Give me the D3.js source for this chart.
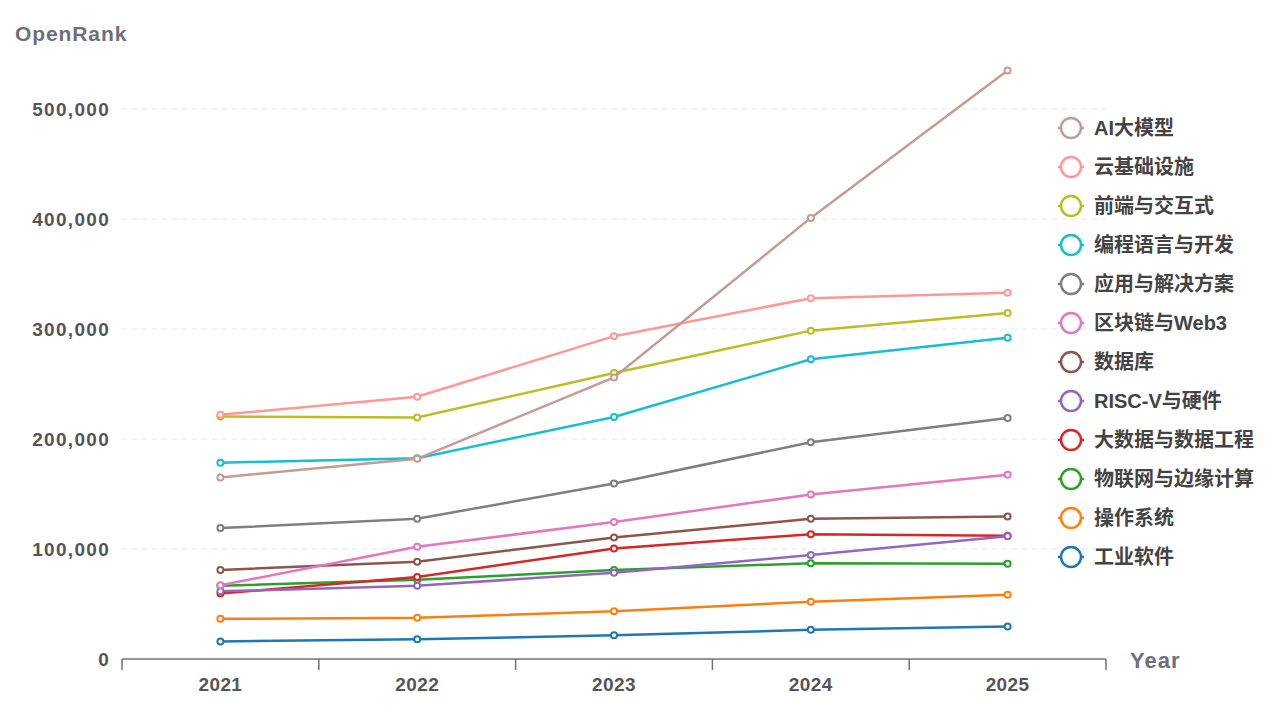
<!DOCTYPE html>
<html>
<head>
<meta charset="utf-8">
<script src="https://cdn.jsdelivr.net/npm/d3@7"></script>
<style>
  body { margin: 0; background: #fff; }
  svg text { font-family: "Liberation Sans", "Noto Sans CJK SC", sans-serif; }
</style>
</head>
<body>
<div id="chart"></div>
<script>
// categories
var years = ["2021", "2022", "2023", "2024", "2025"];
var yTicks = [0, 100000, 200000, 300000, 400000, 500000];

// series values (legend order)
var seriesNames = ["AI大模型", "云基础设施", "前端与交互式", "编程语言与开发", "应用与解决方案", "区块链与Web3",
                   "数据库", "RISC-V与硬件", "大数据与数据工程", "物联网与边缘计算", "操作系统", "工业软件"];
var aiModel      = [165000, 182000, 256000, 401000, 535000];
var cloudInfra   = [222000, 238500, 293500, 328000, 333000];
var frontend     = [220500, 219500, 260000, 298500, 314500];
var progLang     = [178500, 182500, 220000, 272500, 292000];
var appSolution  = [119000, 127500, 159500, 197000, 219000];
var blockchain   = [67000, 102000, 124500, 149500, 167500];
var database     = [81000, 88500, 110500, 127500, 129500];
var riscv        = [61500, 66500, 78500, 94500, 111500];
var bigData      = [59500, 74500, 100500, 113500, 112000];
var iot          = [66500, 72000, 81000, 87000, 86500];
var osSystem     = [36500, 37500, 43500, 52000, 58500];
var industrial   = [16000, 18000, 21500, 26500, 29500];
var seriesColors = ["#c49c94", "#ff9896", "#bcbd22", "#17becf", "#7f7f7f", "#e377c2",
                    "#8c564b", "#9467bd", "#d62728", "#2ca02c", "#ff7f0e", "#1f77b4"];

var allValues = [aiModel, cloudInfra, frontend, progLang, appSolution, blockchain,
                 database, riscv, bigData, iot, osSystem, industrial];
var series = seriesNames.map(function(n, i) { return {name: n, values: allValues[i], color: seriesColors[i]}; });

var W = 1280, H = 713;
var plot = {left: 122, right: 1106, top: 54, bottom: 659};

var x = d3.scaleBand().domain(years).range([plot.left, plot.right]);
var y = d3.scaleLinear().domain([0, 550000]).range([plot.bottom, plot.top]);
var cx = function(d) { return x(d) + x.bandwidth() / 2; };

var svg = d3.select("#chart").append("svg").attr("width", W).attr("height", H);

// grid lines
svg.append("g").selectAll("line").data(yTicks.slice(1)).enter()
  .append("line")
    .attr("x1", plot.left).attr("x2", plot.right)
    .attr("y1", function(d) { return y(d); }).attr("y2", function(d) { return y(d); })
    .attr("stroke", "#e0e6f1").attr("stroke-width", 1).attr("stroke-dasharray", "5,5");

// y labels
svg.append("g").selectAll("text").data(yTicks).enter()
  .append("text")
    .attr("x", plot.left - 12).attr("y", function(d) { return y(d); })
    .attr("dy", "0.35em").attr("text-anchor", "end")
    .attr("font-size", 19).attr("font-weight", "bold").attr("fill", "#555")
    .attr("letter-spacing", 1.3)
    .text(function(d) { return d3.format(",")(d); });

svg.append("text").attr("x", 15).attr("y", 34).attr("dy", "0.35em")
  .attr("font-size", 21).attr("font-weight", "bold").attr("fill", "#6e7079")
  .attr("letter-spacing", 0.9).text("OpenRank");

// x axis
var xAxis = svg.append("g").attr("transform", "translate(0," + plot.bottom + ")");
xAxis.append("line").attr("x1", plot.left).attr("x2", plot.right)
  .attr("stroke", "#6e7079").attr("stroke-width", 1.5);
xAxis.selectAll(".tk").data(years.concat(["end"])).enter()
  .append("line")
    .attr("x1", function(d) { return d === "end" ? plot.right : x(d); })
    .attr("x2", function(d) { return d === "end" ? plot.right : x(d); })
    .attr("y1", 0).attr("y2", 11)
    .attr("stroke", "#6e7079").attr("stroke-width", 1.5);
xAxis.selectAll(".lb").data(years).enter()
  .append("text")
    .attr("x", cx).attr("y", 25).attr("dy", "0.35em").attr("text-anchor", "middle")
    .attr("font-size", 19).attr("font-weight", "bold").attr("fill", "#555")
    .attr("letter-spacing", 0.4)
    .text(function(d) { return d; });
svg.append("text").attr("x", 1130).attr("y", 660).attr("dy", "0.35em")
  .attr("font-size", 22).attr("font-weight", "bold").attr("fill", "#6e7079")
  .attr("letter-spacing", 1).text("Year");

// lines, drawn bottom of legend first
var line = d3.line().x(function(d, i) { return cx(years[i]); }).y(function(d) { return y(d); });
var sg = svg.append("g").selectAll("g").data(series.slice().reverse()).enter().append("g");
sg.append("path")
  .attr("d", function(d) { return line(d.values); })
  .attr("fill", "none").attr("stroke", function(d) { return d.color; }).attr("stroke-width", 2.5);
sg.selectAll("circle").data(function(d) { return d.values.map(function(v, i) { return {v: v, i: i, c: d.color}; }); }).enter()
  .append("circle")
    .attr("cx", function(d) { return cx(years[d.i]); }).attr("cy", function(d) { return y(d.v); })
    .attr("r", 3).attr("fill", "#fff").attr("stroke", function(d) { return d.c; }).attr("stroke-width", 2);

// legend
var lg = svg.append("g").selectAll("g").data(series).enter()
  .append("g").attr("transform", function(d, i) { return "translate(1071," + (128 + i * 39) + ")"; });
lg.append("line").attr("x1", -13).attr("x2", 13)
  .attr("stroke", function(d) { return d.color; }).attr("stroke-width", 2.5);
lg.append("circle").attr("r", 10).attr("fill", "#fff")
  .attr("stroke", function(d) { return d.color; }).attr("stroke-width", 2.5);
lg.append("text").attr("x", 23).attr("dy", "0.35em")
  .attr("font-size", 20).attr("font-weight", "bold").attr("fill", "#444")
  .text(function(d) { return d.name; });
</script>
</body>
</html>
